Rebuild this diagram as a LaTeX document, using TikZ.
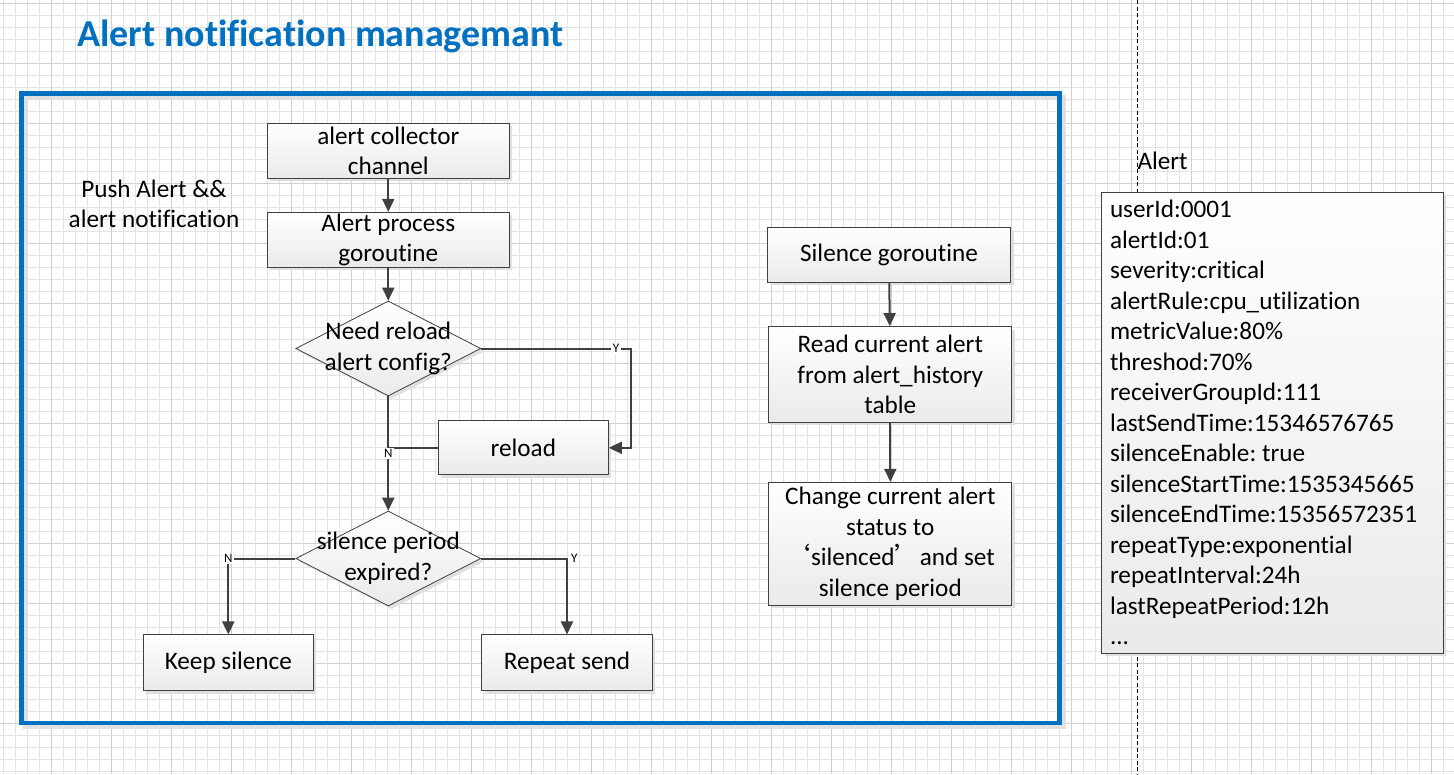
\documentclass[tikz,border=0pt]{standalone}
\usepackage{fontspec}
\setmainfont{Carlito}[Ligatures={TeX,NoCommon}]
\newfontfamily\cjk{Noto Sans CJK SC}
\usetikzlibrary{arrows.meta,shapes.geometric,shadows}
\definecolor{frameblue}{RGB}{0,112,192}
\definecolor{linegray}{RGB}{64,64,64}
\definecolor{gridminor}{RGB}{228,228,228}
\definecolor{gridmajor}{RGB}{208,208,208}
\definecolor{boxbottom}{RGB}{234,234,234}
\newcommand{\bodyfont}{\fontsize{25.2}{30.5}\selectfont\frenchspacing}

\begin{document}
\begin{tikzpicture}[x=1pt,y=-1pt,
    box/.style={rectangle,draw=linegray,line width=1pt,top color=white,bottom color=boxbottom,
      general shadow={fill=black!12,shadow xshift=3pt,shadow yshift=-3pt},
      align=center,inner sep=0pt,font=\bodyfont},
    decision/.style={diamond,draw=linegray,line width=0.8pt,top color=white,bottom color=boxbottom,
      general shadow={fill=black!12,shadow xshift=3pt,shadow yshift=-3pt},
      inner sep=0pt,minimum width=185,minimum height=95},
    flow/.style={draw=linegray,line width=2pt,-{Triangle[length=13pt,width=12pt]}},
    link/.style={draw=linegray,line width=2pt},
    yn/.style={font=\fontsize{13}{13}\selectfont,fill=white,inner sep=1.5pt}]
\useasboundingbox (0,0) rectangle (1454,774);
\fill[white] (0,0) rectangle (1454,774);
% grid
\foreach \gx in {3.7,15.7,...,1454}
  \draw[gridminor,line width=1pt] (\gx,0) -- (\gx,774);
\foreach \gy in {3.3,15.3,...,774}
  \draw[gridminor,line width=1pt] (0,\gy) -- (1454,\gy);
\foreach \gx in {51.7,111.7,...,1454}
  \draw[gridmajor,line width=1pt] (\gx,0) -- (\gx,774);
\foreach \gy in {3.3,63.3,...,774}
  \draw[gridmajor,line width=1pt] (0,\gy) -- (1454,\gy);

\node[anchor=base west,inner sep=0pt,text=frameblue,font=\fontsize{38}{38}\selectfont\bfseries]
  (title) at (77.3,46.7) {Alert notification managemant};

% frame
\draw[black!12,line width=4.5pt] (25.7,97.3) rectangle (1063.5,727.2);
\draw[frameblue,line width=4.5pt] (21.7,93.3) rectangle (1059.5,723.2);

\node[align=center,font=\bodyfont] (push) at (154,204) {Push Alert \&\&\\alert notification};

% main flow
\node[box,minimum width=242,minimum height=55] (collector) at (388.3,150.8) {alert collector\\channel};
\node[box,minimum width=242,minimum height=55] (process) at (388.3,239.8) {Alert process\\goroutine};
\node[decision,label={[font=\bodyfont,align=center]center:{Need reload\\alert config?}}]
  (needq) at (388.3,348.5) {};
\node[box,minimum width=170,minimum height=54.3] (reload) at (523.3,447.8) {reload};
\node[decision,label={[font=\bodyfont,align=center]center:{silence period\\expired?}}]
  (expired) at (388.3,558.5) {};
\node[box,minimum width=170,minimum height=55.7] (keep) at (228.3,662.8) {Keep silence};
\node[box,minimum width=170.6,minimum height=55.7] (repeat) at (567,662.8) {Repeat send};
\coordinate (ycorner) at (631,348.5);

\draw[flow] (collector) -- (process);
\draw[flow] (process) -- (needq);
\draw[flow] (needq.east) -- node[yn,pos=0.9] {Y} (ycorner) |- (reload.east);
\draw[link] (reload.west) -- (reload.west -| needq.south);
\draw[flow] (needq.south) -- node[yn,pos=0.5] {N} (expired.north);
\draw[flow] (expired.west) -| node[yn,pos=0.5] {N} (keep.north);
\draw[flow] (expired.east) -| node[yn,pos=0.5,fill=none,anchor=west,inner sep=3pt] {Y} (repeat.north);

% silence flow
\node[box,minimum width=243,minimum height=55] (silence) at (889,254.8) {Silence goroutine};
\node[box,minimum width=243,minimum height=95.7] (readcur) at (890.3,374.5)
  {Read current alert\\from alert\_history\\table};
\node[box,minimum width=243,minimum height=122.7] (change) at (890.3,543.7)
  {Change current alert\\status to\\{\cjk ‘}silenced{\cjk ’}and set\\silence period};
\draw[flow] (silence) -- (readcur);
\draw[flow] (readcur) -- (change);

% alert record
\draw[black,line width=0.8pt,dash pattern=on 4pt off 2.5pt] (1137.5,0) -- (1137.5,774);
\node[anchor=base west,inner sep=0pt,font=\bodyfont] (alertlbl) at (1137.3,169.3) {Alert};
\node[box,minimum width=341.7,minimum height=461,text width=325,align=left,inner xsep=8.3pt]
  (alert) at (1272.5,422.8) {userId:0001\\alertId:01\\severity:critical\\alertRule:cpu\_utilization\\
  metricValue:80\%\\threshod:70\%\\receiverGroupId:111\\lastSendTime:15346576765\\
  silenceEnable:\hspace{0.23em}true\\silenceStartTime:1535345665\\silenceEndTime:15356572351\\
  repeatType:exponential\\repeatInterval:24h\\lastRepeatPeriod:12h\\...};
\end{tikzpicture}
\end{document}
